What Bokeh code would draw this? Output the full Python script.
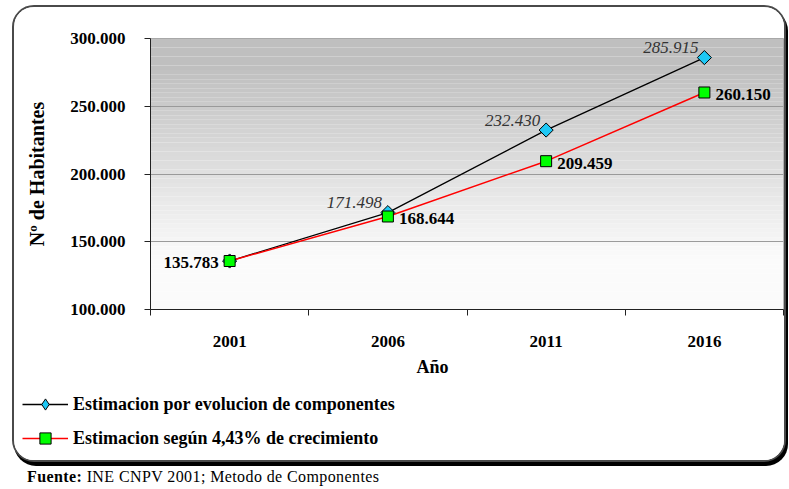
import math
import numpy as np
from bokeh.plotting import figure
from bokeh.models import (FixedTicker, Legend, LegendItem, BoxAnnotation, Div,
                          Range1d, Title)
from bokeh.layouts import column
from bokeh.embed import file_html
from bokeh.resources import INLINE
from bokeh.core.properties import value

# ---- data ----
years = ["2001", "2006", "2011", "2016"]
componentes = [135783, 171498, 232430, 285915]
crecimiento = [135783, 168644, 209459, 260150]
y_ticks = [100000, 150000, 200000, 250000, 300000]
y_tick_labels = ["100.000", "150.000", "200.000", "250.000", "300.000"]
series_names = ["Estimacion por evolucion de componentes",
                "Estimacion según 4,43% de crecimiento"]
y_label = "Nº de Habitantes"
x_label = "Año"
source_note = "INE CNPV 2001; Metodo de Componentes"


def fmt(v):
    return f"{v:,}".replace(",", ".")


xs = [i + 0.5 for i in range(len(years))]
lab_comp = [fmt(v) for v in componentes]
lab_crec = [fmt(v) for v in crecimiento]

FONT = "Liberation Serif"
LINE1 = dict(line_color="black", line_width=1.3)
LINE2 = dict(line_color="#ff0000", line_width=1.5)
MARK1 = dict(marker="square", angle=math.pi / 4, size=10, fill_color="#1ec8f5",
             line_color="black", line_width=1)
MARK1_LEG = dict(marker="diamond", size=10, fill_color="#1ec8f5",
                 line_color="black", line_width=1)
MARK2 = dict(marker="square", size=11, fill_color="#00ff00",
             line_color="black", line_width=1)

p = figure(width=770, height=375, output_backend="svg", toolbar_location=None,
           x_range=Range1d(0, len(years)), y_range=Range1d(y_ticks[0], y_ticks[-1]),
           min_border_left=136, min_border_right=1, min_border_top=31,
           min_border_bottom=72)
p.background_fill_color = "white"
p.border_fill_color = "white"
p.outline_line_color = "#a0a0a0"
p.outline_line_width = 1

# gradient background bands (derived from y range)
n_bands = 60
y0, y1 = y_ticks[0], y_ticks[-1]
edges = np.linspace(y1, y0, n_bands + 1)
for i in range(n_bands):
    t = i / (n_bands - 1)
    t2 = min(1.0, max(0.0, (t - 0.1) / 0.72))
    c = int(round(0xbf + (0xfb - 0xbf) * t2))
    col = "#%02x%02x%02x" % (c, c, c)
    p.add_layout(BoxAnnotation(bottom=edges[i + 1], top=edges[i], fill_color=col,
                               fill_alpha=1.0, line_color=None, level="image"))

# axes
p.yaxis.ticker = FixedTicker(ticks=y_ticks)
p.yaxis.major_label_overrides = {t: l for t, l in zip(y_ticks, y_tick_labels)}
p.yaxis.major_tick_out = 6
p.yaxis.major_tick_in = 0
p.yaxis.minor_tick_line_color = None
p.yaxis.axis_line_color = "#222"
p.yaxis.major_tick_line_color = "#222"
p.yaxis.major_label_standoff = 19
p.yaxis.major_label_text_font = FONT
p.yaxis.major_label_text_font_style = "bold"
p.yaxis.major_label_text_font_size = "17px"
p.yaxis.major_label_text_color = "black"
p.yaxis.axis_label = y_label
p.yaxis.axis_label_text_font = FONT
p.yaxis.axis_label_text_font_style = "bold"
p.yaxis.axis_label_text_font_size = "20px"
p.yaxis.axis_label_text_color = "black"
p.yaxis.axis_label_standoff = 19

p.xaxis.ticker = FixedTicker(ticks=xs, minor_ticks=list(range(len(years) + 1)))
p.xaxis.major_label_overrides = {x: y for x, y in zip(xs, years)}
p.xaxis.major_tick_line_color = None
p.xaxis.major_tick_out = 0
p.xaxis.major_tick_in = 0
p.xaxis.minor_tick_out = 6
p.xaxis.minor_tick_in = 0
p.xaxis.minor_tick_line_color = "#222"
p.xaxis.axis_line_color = "#222"
p.xaxis.major_label_standoff = 20
p.xaxis.major_label_text_font = FONT
p.xaxis.major_label_text_font_style = "bold"
p.xaxis.major_label_text_font_size = "17px"
p.xaxis.major_label_text_color = "black"

p.add_layout(Title(text=x_label, align="left", offset=266, text_font=FONT,
                   text_font_style="bold", text_font_size="18px",
                   text_color="black", standoff=11), "below")

p.xgrid.grid_line_color = None
p.ygrid.grid_line_color = "#9a9a9a"
p.ygrid.grid_line_width = 1

# series
p.line(xs, componentes, **LINE1)
p.line(xs, crecimiento, **LINE2)
p.scatter(xs, componentes, **MARK1)
p.scatter(xs, crecimiento, **MARK2)

# data labels
p.text(xs[1:], componentes[1:], text=lab_comp[1:], text_align="right",
       text_baseline="alphabetic", x_offset=-6, y_offset=-10,
       text_font=value(FONT), text_font_style="italic", text_font_size="17px",
       text_color="#333333")
p.text(xs[1:], crecimiento[1:], text=lab_crec[1:], text_align="left",
       text_baseline="middle", x_offset=11, y_offset=2,
       text_font=value(FONT), text_font_style="bold", text_font_size="17px",
       text_color="black")
p.text(xs[:1], crecimiento[:1], text=lab_crec[:1], text_align="right",
       text_baseline="middle", x_offset=-11, y_offset=1,
       text_font=value(FONT), text_font_style="bold", text_font_size="17px",
       text_color="black")

# legend panel (separate figure below the chart, inside the same frame);
# the series are drawn there out of view so that only the legend shows
pl = figure(width=770, height=78, output_backend="svg", toolbar_location=None,
            min_border=0, x_range=Range1d(0, 1), y_range=Range1d(0, 1))
pl.axis.visible = False
pl.grid.grid_line_color = None
pl.outline_line_color = None
pl.background_fill_color = "white"
pl.border_fill_color = "white"
if "frame_align" in pl.properties():
    pl.frame_align = False
    p.frame_align = False
r1 = [pl.line(xs, componentes, **LINE1), pl.scatter(xs, componentes, **MARK1_LEG)]
r2 = [pl.line(xs, crecimiento, **LINE2), pl.scatter(xs, crecimiento, **MARK2)]
legend = Legend(items=[LegendItem(label=series_names[0], renderers=r1),
                       LegendItem(label=series_names[1], renderers=r2)],
                location="top_left", orientation="vertical",
                glyph_width=46, glyph_height=28, label_height=20, spacing=6,
                padding=0, margin=8, label_standoff=5,
                background_fill_alpha=0, border_line_color=None,
                label_text_font=FONT, label_text_font_style="bold",
                label_text_font_size="18px", label_text_color="black")
pl.add_layout(legend, "center")

frame_box = column(p, pl, spacing=0,
                   styles={"border": "2px solid #4a4a4a", "border-radius": "22px",
                           "box-shadow": "2px 4px 0 #000", "overflow": "hidden",
                           "margin-left": "12px", "margin-top": "5px",
                           "background": "white"})

note = Div(text="<b>Fuente:</b> " + source_note,
           styles={"font-family": FONT, "font-size": "16px", "color": "black",
                   "line-height": "16px", "margin-left": "27px",
                   "margin-top": "7px", "letter-spacing": "0.4px"})

layout = column(frame_box, note, spacing=0)
open("out.html", "w").write(file_html(layout, INLINE))
